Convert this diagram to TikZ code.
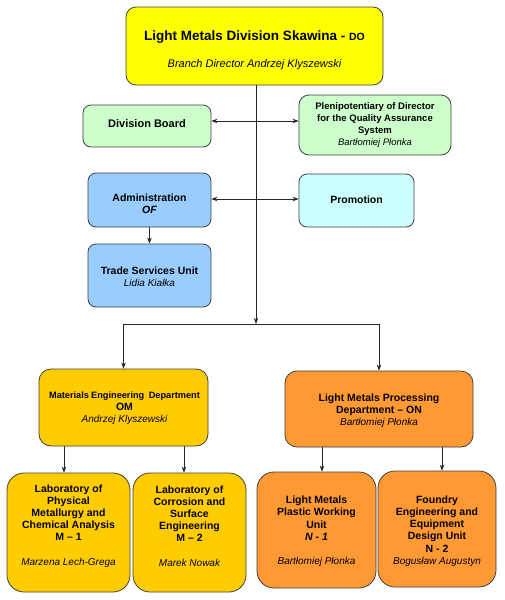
\documentclass[tikz,border=0pt]{standalone}
\usepackage{fontspec}
\setmainfont{Liberation Sans}
\usetikzlibrary{arrows.meta}
\definecolor{cTop}{HTML}{FFFF00}
\definecolor{cGreen}{HTML}{CCFFCC}
\definecolor{cBlue}{HTML}{99CCFF}
\definecolor{cCyan}{HTML}{CCFFFF}
\definecolor{cGold}{HTML}{FFCC00}
\definecolor{cOrange}{HTML}{FF9933}
\definecolor{cBorder}{HTML}{404040}
\tikzset{
  box/.style={draw=cBorder, line width=0.8pt, rounded corners=#1, inner sep=0pt},
  box/.default=8pt,
  txt/.style={align=center, inner sep=0pt, font=\fontsize{10.5}{12.2}\selectfont\bfseries},
  nm/.style={},
  conn/.style={line width=0.8pt, black!85},
  arr/.style={conn, -{Stealth[length=6pt,width=4.5pt]}},
  darr/.style={conn, {Stealth[length=6pt,width=4.5pt]}-{Stealth[length=6pt,width=4.5pt]}},
}
\newcommand{\nmit}[1]{{\fontsize{10}{12.2}\selectfont\mdseries\itshape #1}}
\begin{document}
\begin{tikzpicture}[x=1pt,y=-1pt]
\useasboundingbox[fill=white] (0,0) rectangle (505,600);

% boxes
\node[box=10pt, fill=cTop, minimum width=257pt, minimum height=78pt] (top) at (254.5,46) {};
\node[box, fill=cGreen, minimum width=128pt, minimum height=42pt] (divb) at (147,126) {};
\node[box=10pt, fill=cGreen, minimum width=152pt, minimum height=60pt] (plen) at (375,125) {};
\node[box, fill=cBlue, minimum width=123pt, minimum height=54pt] (adm) at (149.5,200) {};
\node[box, fill=cCyan, minimum width=115pt, minimum height=53pt] (prom) at (356.5,200.5) {};
\node[box, fill=cBlue, minimum width=123pt, minimum height=63pt] (trade) at (149.5,275.5) {};
\node[box=12pt, fill=cGold, minimum width=169pt, minimum height=77pt] (mat) at (123.5,407.5) {};
\node[box=12pt, fill=cOrange, minimum width=188pt, minimum height=76pt] (lmp) at (379,409) {};
\node[box=17pt, fill=cGold, minimum width=123pt, minimum height=119pt] (lab1) at (68.5,532.5) {};
\node[box=17pt, fill=cGold, minimum width=113pt, minimum height=119pt] (lab2) at (189.5,532.5) {};
\node[box=17pt, fill=cOrange, minimum width=119pt, minimum height=116pt] (n1) at (316.5,530) {};
\node[box=17pt, fill=cOrange, minimum width=118pt, minimum height=116pt] (n2) at (437,529) {};

% texts
\node[txt, font=\fontsize{13.5}{16}\selectfont\bfseries] (topt) at (254.5,50) {Light Metals Division Skawina - {\fontsize{10.5}{12}\selectfont DO}\\[11pt]{\fontsize{11}{13}\selectfont\mdseries\itshape Branch Director Andrzej Klyszewski}};
\node[txt, font=\fontsize{11}{13}\selectfont\bfseries] (divbt) at (divb.center |- 0,123.5) {Division Board};
\node[txt, font=\fontsize{9.5}{11.7}\selectfont\bfseries] (plent) at (375,125) {Plenipotentiary of Director\\for the Quality Assurance\\System\\{\mdseries\itshape Bartłomiej Płonka}};
\node[txt] (admt) at (149.5,203.5) {Administration\\\itshape OF};
\node[txt] (promt) at (356.5,199.5) {Promotion};
\node[txt] (tradet) at (149.5,276.5) {Trade Services Unit\\\nmit{Lidia Kiałka}};
\node[txt] (matt) at (124.5,408) {{\fontsize{9.2}{11.5}\selectfont\spaceskip=2.2pt Materials Engineering\ \ Department}\\OM\\\nmit{Andrzej Klyszewski}};
\node[txt] (lmpt) at (379,410.5) {Light Metals Processing\\Department – ON\\\nmit{Bartłomiej Płonka}};
\node[txt] (lab1t) at (68.5,526) {Laboratory of\\Physical\\Metallurgy and\\Chemical Analysis\\M – 1\\[12.2pt]\nmit{Marzena Lech-Grega}};
\node[txt] (lab2t) at (189.5,526) {Laboratory of\\Corrosion and\\Surface\\Engineering\\M – 2\\[12.2pt]\nmit{Marek Nowak}};
\node[txt] (n1t) at (316.5,531.5) {Light Metals\\Plastic Working\\Unit\\\textit{N - 1}\\[12.2pt]\nmit{Bartłomiej Płonka}};
\node[txt] (n2t) at (437,531) {Foundry\\Engineering and\\Equipment\\Design Unit\\N - 2\\\nmit{Bogusław Augustyn}};

% connectors
\coordinate (j) at (256,324);
\draw[arr] (top.south -| j) -- (j);
\draw[conn] (j -| mat.north) -- (j -| lmp.north);
\draw[arr] (j -| mat.north) -- (mat.north);
\draw[arr] (j -| lmp.north) -- (lmp.north);
\draw[darr] ([yshift=5pt]divb.east) -- ([yshift=5pt]divb.east -| plen.west);
\draw[darr] ([yshift=1pt]adm.east) -- ([yshift=1pt]adm.east -| prom.west);
\draw[arr] (adm.south) -- (trade.north);
\draw[arr] ([xshift=-4.5pt]lab1.north |- mat.south) -- ([xshift=-4.5pt]lab1.north);
\draw[arr] ([xshift=-5.5pt]lab2.north |- mat.south) -- ([xshift=-5.5pt]lab2.north);
\draw[arr] ([xshift=5.5pt]n1.north |- lmp.south) -- ([xshift=5.5pt]n1.north);
\draw[arr] ([xshift=5pt]n2.north |- lmp.south) -- ([xshift=5pt]n2.north);
\end{tikzpicture}
\end{document}
